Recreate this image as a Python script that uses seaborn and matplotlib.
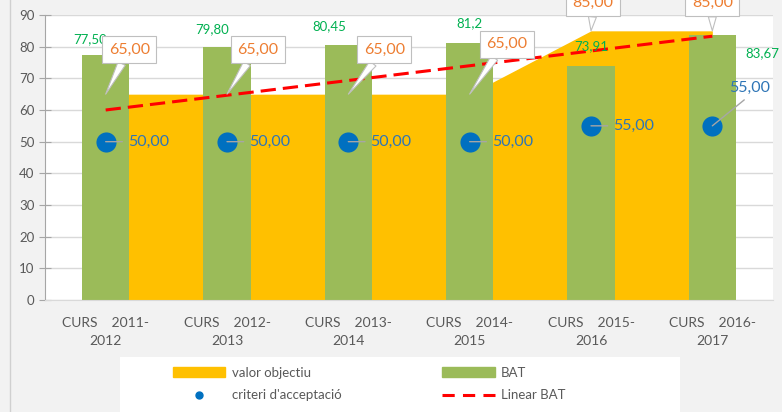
import numpy as np
import pandas as pd
import matplotlib
matplotlib.use("Agg")
import matplotlib.pyplot as plt
import seaborn as sns
from matplotlib.patches import Patch, Rectangle
from matplotlib.lines import Line2D

plt.rcParams['font.family'] = ['Lato', 'DejaVu Sans']

# data
cursos = ["CURS    2011-\n2012", "CURS    2012-\n2013", "CURS    2013-\n2014",
          "CURS    2014-\n2015", "CURS    2015-\n2016", "CURS    2016-\n2017"]
valor_objectiu = [65, 65, 65, 65, 85, 85]
bat = [77.50, 79.80, 80.45, 81.2, 73.91, 83.67]
bat_labels = ["77,50", "79,80", "80,45", "81,2", "73,91", "83,67"]
criteri = [50, 50, 50, 50, 55, 55]
linear_bat = [60.0, 83.3]  # trend line at first and last course

# label placement (offset points), not data
callout_offsets = [(17, 32), (22, 32), (26, 32), (27, 36), (1.5, 20), (0, 20)]
callout_relpos = [(0.4, 0), (0.35, 0), (0.35, 0), (0.3, 0), (0.5, 0), (0.5, 0)]
bat_offsets = [(-11, 11), (-11, 13), (-14, 14), (0, 14), (0, 14), (36, -13)]
criteri_offsets = [(16, 0), (16, 0), (16, 0), (16, 0), (16, 0), (27, 27)]

YELLOW = '#ffc000'
GREEN = '#9bbb59'
BLUE = '#0070c0'
GREY = '#595959'


def fmt(v):
    return f"{v:.2f}".replace('.', ',')


fig = plt.figure(figsize=(7.82, 4.12), dpi=100, facecolor='#f2f2f2')
ax = fig.add_axes([45 / 782, 112 / 412, 728 / 782, 285 / 412])
ax.set_facecolor('white')

xs = np.arange(len(cursos))
df = pd.DataFrame({'curs': cursos, 'bat': bat, 'objectiu': valor_objectiu, 'criteri': criteri})

# valor objectiu area behind the bars
ax.fill_between(xs, df['objectiu'], color=YELLOW, lw=0, zorder=1)

sns.barplot(data=df, x='curs', y='bat', color=GREEN, saturation=1, width=0.39,
            linewidth=0, ax=ax, zorder=2)

ax.plot([xs[0], xs[-1]], linear_bat, color='#ff0000', lw=2.2,
        linestyle=(0, (5, 2.3)), zorder=3)

sns.scatterplot(x=xs, y=df['criteri'], s=210, color=BLUE, linewidth=0,
                zorder=4, ax=ax, legend=False)

ax.set_xlim(-0.5, 5.5)
ax.set_ylim(0, 90)
ax.set_yticks(range(0, 91, 10))
ax.set_xticks(xs, cursos)
ax.set_xlabel('')
ax.set_ylabel('')

ax.yaxis.grid(True, color='#d9d9d9', lw=1)
ax.set_axisbelow(True)
for s in ['top', 'right']:
    ax.spines[s].set_visible(False)
ax.spines['left'].set_color('#a6a6a6')
ax.spines['bottom'].set_color('#d9d9d9')
ax.tick_params(axis='x', length=0, pad=12, labelsize=10, labelcolor=GREY)
ax.tick_params(axis='y', direction='inout', length=9, color='#a6a6a6', pad=3,
               labelsize=9.5, labelcolor=GREY)
for t in ax.get_xticklabels():
    t.set_linespacing(1.6)

# BAT value labels
for i, (v, lab, off) in enumerate(zip(bat, bat_labels, bat_offsets)):
    ax.annotate(lab, xy=(i, v), xytext=off, textcoords='offset points',
                ha='center', va='center', fontsize=9.5, color='#00b050', zorder=5)

# criteri labels with leader lines
for i, (v, off) in enumerate(zip(criteri, criteri_offsets)):
    last = i == len(criteri) - 1
    ax.annotate(fmt(v), xy=(i, v), xytext=off, textcoords='offset points',
                ha='center' if last else 'left', va='center', fontsize=11.5,
                color='#2e75b6', zorder=6,
                arrowprops=dict(arrowstyle='-', color='#a6a6a6', lw=1,
                                relpos=(0.5, 0) if last else (0, 0.5),
                                shrinkA=2, shrinkB=0))

# valor objectiu callouts
for i, (v, off, rp) in enumerate(zip(valor_objectiu, callout_offsets, callout_relpos)):
    ax.annotate(fmt(v), xy=(i, v), xytext=off, textcoords='offset points',
                ha='center', va='center', fontsize=11.5, color='#ed7d31', zorder=7,
                annotation_clip=False,
                bbox=dict(boxstyle='square,pad=0.4', fc='white', ec='#bfbfbf', lw=0.8),
                arrowprops=dict(arrowstyle='wedge,tail_width=0.5,shrink_factor=0.5',
                                fc='white', ec='#bfbfbf', lw=0.8, relpos=rp,
                                shrinkA=0, shrinkB=0))

# chart border on the left and legend on a white strip at the bottom
fig.add_artist(Line2D([9.5 / 782, 9.5 / 782], [0, 1], transform=fig.transFigure,
                      color='#d0d0d0', lw=1))
fig.add_artist(Rectangle((120 / 782, 0), 560 / 782, 55 / 412, transform=fig.transFigure,
                         fc='white', ec='none', zorder=0))
handles = [Patch(color=YELLOW), Line2D([], [], marker='o', ms=5, color=BLUE, lw=0),
           Patch(color=GREEN), Line2D([], [], color='#ff0000', lw=2.2, linestyle=(0, (4, 2.7)))]
labels = ["valor objectiu", "criteri d'acceptació", "BAT", "Linear BAT"]
leg = fig.legend(handles, labels, loc='upper left', bbox_to_anchor=(166 / 782, 52 / 412),
                 ncol=2, frameon=False, borderpad=0, fontsize=9.5, handlelength=4.0,
                 handletextpad=0.5, columnspacing=7.6, labelspacing=0.8)
for t in leg.get_texts():
    t.set_color(GREY)

fig.savefig('out.png', dpi=100, facecolor=fig.get_facecolor())
